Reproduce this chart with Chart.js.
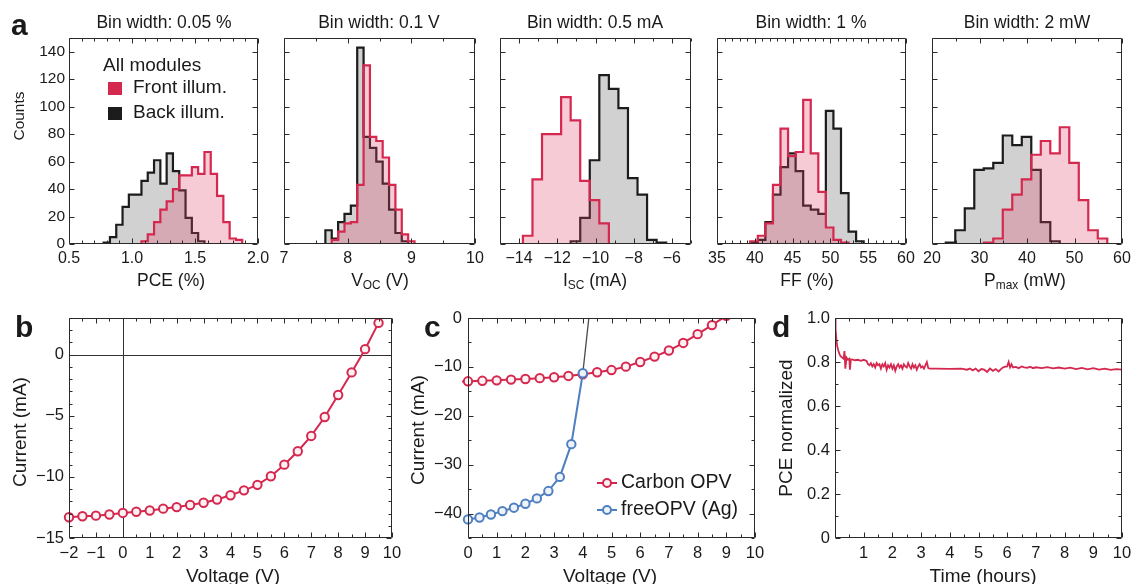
<!DOCTYPE html>
<html>
<head>
<meta charset="utf-8">
<script src="https://cdn.jsdelivr.net/npm/chart.js@4.4.1/dist/chart.umd.min.js"></script>
<style>
  html, body { margin: 0; padding: 0; background: #fff; width: 1131px; height: 584px; overflow: hidden; }
  #fig { position: relative; width: 1131px; height: 584px; overflow: hidden;
         font-family: "Liberation Sans", Arial, Helvetica, sans-serif; color: #1a1a1a; }
  canvas { position: absolute; left: 0; top: 0; }
  .t { position: absolute; white-space: nowrap; line-height: 1; transform: translate(-50%, -50%); }
  .r { transform: translate(-50%, -50%) rotate(-90deg); }
  .ttl { font-size: 17.5px; }
  .ax { font-size: 17.5px; }
  .cnt { font-size: 15.5px; }
  .ax2 { font-size: 19px; }
  .lt { position: absolute; font-weight: bold; font-size: 30px; line-height: 1; }
  sub { font-size: 68%; vertical-align: -0.22em; line-height: 0; }
</style>
</head>
<body>
<div id="fig">
  <canvas id="cPce" width="1200" height="620"></canvas>
  <canvas id="cVoc" width="1200" height="620"></canvas>
  <canvas id="cIsc" width="1200" height="620"></canvas>
  <canvas id="cFf" width="1200" height="620"></canvas>
  <canvas id="cPmax" width="1200" height="620"></canvas>
  <canvas id="cIvB" width="1200" height="620"></canvas>
  <canvas id="cIvC" width="1200" height="620"></canvas>
  <canvas id="cStab" width="1200" height="620"></canvas>

  <div class="lt" style="left:11px;top:10px">a</div>
  <div class="lt" style="left:15px;top:312px">b</div>
  <div class="lt" style="left:424px;top:312px">c</div>
  <div class="lt" style="left:772px;top:312px">d</div>

  <div class="t ttl" style="left:164px;top:23px">Bin width: 0.05 %</div>
  <div class="t ttl" style="left:379px;top:23px">Bin width: 0.1 V</div>
  <div class="t ttl" style="left:595px;top:23px">Bin width: 0.5 mA</div>
  <div class="t ttl" style="left:811px;top:23px">Bin width: 1 %</div>
  <div class="t ttl" style="left:1027px;top:23px">Bin width: 2 mW</div>

  <div class="t ax" style="left:171px;top:281px">PCE (%)</div>
  <div class="t ax" style="left:380px;top:281px">V<sub>OC</sub> (V)</div>
  <div class="t ax" style="left:595px;top:281px">I<sub>SC</sub> (mA)</div>
  <div class="t ax" style="left:807px;top:281px">FF (%)</div>
  <div class="t ax" style="left:1025px;top:281px">P<sub>max</sub> (mW)</div>
  <div class="t cnt r" style="left:19px;top:116px">Counts</div>

  <div class="t ax2" style="left:233px;top:575px">Voltage (V)</div>
  <div class="t ax2" style="left:610px;top:575px">Voltage (V)</div>
  <div class="t ax2" style="left:983px;top:575px">Time (hours)</div>
  <div class="t ax2 r" style="left:19px;top:432px">Current (mA)</div>
  <div class="t ax2 r" style="left:417px;top:430px">Current (mA)</div>
  <div class="t ax2 r" style="left:785px;top:428px">PCE normalized</div>
</div>

<script>
// ---------- histogram data: first bin edge, bin width, counts per bin ----------
const pceBinWidth = 0.05;
const pceFrontStart = 1.075;
const pceFrontCounts = [2, 7, 16, 25, 31, 40, 50, 50, 56, 51, 67, 51, 35, 16, 4, 3];
const pceBackStart = 0.775;
const pceBackCounts = [1, 5, 14, 27, 36, 36, 46, 52, 61, 44, 66, 53, 39, 19, 8, 2];

const vocBinWidth = 0.1;
const vocFrontStart = 7.75;
const vocFrontCounts = [3, 9, 15, 16, 43, 130, 78, 75, 63, 43, 25, 7, 2];
const vocBackStart = 7.65;
const vocBackCounts = [10, 4, 16, 22, 28, 143, 78, 70, 60, 44, 25, 8, 2];

const iscBinWidth = 0.5;
const iscFrontStart = -13.8;
const iscFrontCounts = [6, 47, 80, 80, 107, 90, 46, 32, 15];
const iscBackStart = -11.3;
const iscBackCounts = [2, 19, 61, 123, 113, 99, 48, 36, 3, 1];

const ffBinWidth = 1;
const ffFrontStart = 39.4;
const ffFrontCounts = [2, 6, 15, 43, 84, 64, 67, 105, 66, 38, 12, 3, 1];
const ffBackStart = 39.4;
const ffBackCounts = [1, 3, 16, 36, 56, 66, 53, 28, 25, 22, 97, 84, 37, 9, 2];

const pmaxBinWidth = 2;
const pmaxFrontStart = 30.9;
const pmaxFrontCounts = [1, 4, 25, 36, 47, 65, 75, 66, 85, 59, 32, 10, 4];
const pmaxBackStart = 22.9;
const pmaxBackCounts = [1, 10, 26, 54, 55, 59, 79, 72, 78, 54, 16, 2];

// ---------- I-V curves ----------
const carbonVoltage = [-2, -1.5, -1, -0.5, 0, 0.5, 1, 1.5, 2, 2.5, 3, 3.5, 4, 4.5, 5, 5.5, 6, 6.5, 7, 7.5, 8, 8.5, 9, 9.5];
const carbonCurrent = [-13.3, -13.22, -13.17, -13.08, -12.95, -12.85, -12.75, -12.6, -12.47, -12.3, -12.12, -11.85,
                       -11.5, -11.1, -10.65, -9.95, -9.0, -7.9, -6.65, -5.1, -3.3, -1.45, 0.45, 2.6];
const silverVoltage = [0, 0.4, 0.8, 1.2, 1.6, 2.0, 2.4, 2.8, 3.2, 3.6, 4.0, 4.4];
const silverCurrent = [-41.2, -40.8, -40.2, -39.5, -38.8, -38.0, -36.9, -35.4, -32.5, -25.8, -11.3, 10.2];

// ---------- stability run ----------
const stabTime = [0, 0.02, 0.05, 0.08, 0.12, 0.16, 0.2, 0.25, 0.3, 0.33, 0.36, 0.4, 0.45, 0.5, 0.52, 0.55, 0.6, 0.7, 0.8, 0.9,
  1.0, 1.1, 1.15, 1.2, 1.25, 1.3, 1.35, 1.4, 1.45, 1.5, 1.55, 1.6, 1.65, 1.7, 1.75, 1.8, 1.85, 1.9, 1.95, 2.0,
  2.05, 2.1, 2.15, 2.2, 2.25, 2.3, 2.35, 2.4, 2.45, 2.5, 2.55, 2.6, 2.65, 2.7, 2.75, 2.8, 2.85, 2.9, 2.95, 3.0,
  3.05, 3.1, 3.15, 3.2, 3.25, 3.3, 3.5, 4.0, 4.4, 4.6, 4.7, 4.8, 4.9, 5.0, 5.1, 5.2, 5.3, 5.4, 5.5, 5.6, 5.7, 5.8,
  5.85, 5.9, 6.0, 6.05, 6.1, 6.15, 6.2, 6.3, 6.4, 6.5, 6.6, 6.7, 6.8, 6.9, 7.0, 7.2, 7.4, 7.6, 7.8, 8.0, 8.2, 8.4,
  8.6, 8.8, 9.0, 9.2, 9.4, 9.6, 9.8, 10.0];
const stabPce = [1.0, 0.95, 0.90, 0.87, 0.85, 0.835, 0.825, 0.82, 0.815, 0.85, 0.77, 0.82, 0.81, 0.815, 0.765, 0.81, 0.812, 0.808, 0.81, 0.805,
  0.81, 0.805, 0.79, 0.785, 0.795, 0.78, 0.79, 0.775, 0.795, 0.785, 0.79, 0.77, 0.79, 0.78, 0.795, 0.765, 0.785, 0.775, 0.79, 0.77,
  0.785, 0.76, 0.78, 0.79, 0.775, 0.785, 0.77, 0.79, 0.78, 0.775, 0.795, 0.78, 0.77, 0.79, 0.775, 0.785, 0.765, 0.78, 0.79, 0.775,
  0.78, 0.77, 0.785, 0.80, 0.772, 0.77, 0.77, 0.769, 0.77, 0.765, 0.77, 0.762, 0.77, 0.758, 0.768, 0.765, 0.755, 0.77, 0.76, 0.768, 0.757, 0.77,
  0.775, 0.778, 0.78, 0.80, 0.776, 0.79, 0.775, 0.778, 0.772, 0.78, 0.776, 0.774, 0.779, 0.772, 0.776, 0.772, 0.777, 0.771, 0.775, 0.77, 0.774, 0.768,
  0.773, 0.767, 0.772, 0.765, 0.77, 0.764, 0.768, 0.765];

// ---------- tick values ----------
const countTicks = [0, 20, 40, 60, 80, 100, 120, 140];
const pceTicks = [0.5, 1.0, 1.5, 2.0];
const vocTicks = [7, 8, 9, 10];
const iscTicks = [-14, -12, -10, -8, -6];
const ffTicks = [35, 40, 45, 50, 55, 60];
const pmaxTicks = [20, 30, 40, 50, 60];
const voltTicksB = [-2, -1, 0, 1, 2, 3, 4, 5, 6, 7, 8, 9, 10];
const currentTicksB = [-15, -10, -5, 0];
const voltTicksC = [0, 1, 2, 3, 4, 5, 6, 7, 8, 9, 10];
const currentTicksC = [-40, -30, -20, -10, 0];
const timeTicks = [1, 2, 3, 4, 5, 6, 7, 8, 9, 10];
const pceNormTicks = [0, 0.2, 0.4, 0.6, 0.8, 1.0];

// ---------- styling ----------
const FONT = '"Liberation Sans", Arial, Helvetica, sans-serif';
const TEXT = '#1a1a1a';
const RED = '#d5284f';
const RED_FILL = 'rgba(226, 70, 106, 0.28)';
const BLACK = '#1c1c1c';
const GRAY_FILL = 'rgba(70, 70, 70, 0.25)';
const BLUE = '#4f7fbf';
Chart.defaults.font.family = FONT;
Chart.defaults.color = TEXT;

const CW = 1200, CH = 620, AXW = 60, AXH = 40;
const withMinus = v => String(v).replace('-', '\u2212');

function stepList(min, max, step, majors) {
  if (!step) return [];
  const out = [];
  for (let k = Math.ceil(min / step - 1e-9); k * step <= max + 1e-9; k++) {
    const v = k * step;
    if (!majors.some(m => Math.abs(m - v) < step / 10)) out.push(v);
  }
  return out;
}

// Box frame with inward ticks on all four sides, optional zero cross-hair
function framePlugin(f) {
  return {
    id: 'frame',
    beforeDatasetsDraw(chart) {
      if (!f.zero) return;
      const { ctx, chartArea: a, scales: { x, y } } = chart;
      const px = Math.round(x.getPixelForValue(0)) + 0.5;
      const py = Math.round(y.getPixelForValue(0)) + 0.5;
      ctx.save();
      ctx.strokeStyle = '#333'; ctx.lineWidth = 1;
      ctx.beginPath();
      ctx.moveTo(px, a.top); ctx.lineTo(px, a.bottom);
      ctx.moveTo(a.left, py); ctx.lineTo(a.right, py);
      ctx.stroke();
      ctx.restore();
    },
    afterDatasetsDraw(chart) {
      const { ctx, chartArea: a, scales: { x, y } } = chart;
      const L = Math.round(a.left) + 0.5, R = Math.round(a.right) - 0.5;
      const T = Math.round(a.top) + 0.5, B = Math.round(a.bottom) - 0.5;
      ctx.save();
      ctx.strokeStyle = '#2a2a2a'; ctx.lineWidth = 1;
      ctx.beginPath();
      const xt = (vals, len) => vals.forEach(v => {
        const p = Math.round(x.getPixelForValue(v)) + 0.5;
        ctx.moveTo(p, B); ctx.lineTo(p, B - len);
        ctx.moveTo(p, T); ctx.lineTo(p, T + len);
      });
      const yt = (vals, len) => vals.forEach(v => {
        const p = Math.round(y.getPixelForValue(v)) + 0.5;
        ctx.moveTo(L, p); ctx.lineTo(L + len, p);
        ctx.moveTo(R, p); ctx.lineTo(R - len, p);
      });
      xt(f.xMajor, 5);
      xt(stepList(x.min, x.max, f.xMinor, f.xMajor), 3);
      yt(f.yMajor, 5);
      yt(stepList(y.min, y.max, f.yMinor, f.yMajor), 3);
      ctx.rect(L, T, R - L, B - T);
      ctx.stroke();
      ctx.restore();
    }
  };
}

function axis(cfg, isX) {
  return {
    type: 'linear', min: cfg.min, max: cfg.max,
    grid: { display: false, drawTicks: false },
    border: { display: false },
    ticks: {
      display: cfg.show !== false, padding: cfg.pad, font: { size: cfg.size },
      autoSkip: false, maxRotation: 0, color: TEXT,
      callback: cfg.fmt || (v => withMinus(v))
    },
    afterBuildTicks: s => { s.ticks = cfg.ticks.map(v => ({ value: v })); },
    afterFit: s => { if (isX) s.height = AXH; else s.width = AXW; }
  };
}

function panel(id, rect, datasets, xc, yc, extra) {
  const frame = framePlugin({
    xMajor: xc.marks || xc.ticks, xMinor: xc.minor,
    yMajor: yc.marks || yc.ticks, yMinor: yc.minor, zero: rect.zero
  });
  return new Chart(document.getElementById(id), {
    type: 'line',
    data: { datasets },
    options: {
      responsive: false, animation: false, devicePixelRatio: 1,
      events: [],
      layout: { padding: { left: rect.l - AXW, top: rect.t, right: CW - rect.r, bottom: CH - rect.b - AXH } },
      plugins: { legend: { display: false }, tooltip: { enabled: false } },
      scales: { x: axis(xc, true), y: axis(yc, false) }
    },
    plugins: [frame].concat(extra || [])
  });
}

// stepped outline of a histogram, starting and ending on the baseline
function histPoints(start, width, counts) {
  const pts = [{ x: start, y: 0 }];
  counts.forEach((c, i) => pts.push({ x: start + i * width, y: c }));
  pts.push({ x: start + counts.length * width, y: 0 });
  return pts;
}
function histSets(fStart, fCounts, bStart, bCounts, w) {
  const common = { stepped: 'before', fill: 'origin', borderWidth: 2.2, pointRadius: 0, tension: 0 };
  return [
    Object.assign({ label: 'Front illum.', data: histPoints(fStart, w, fCounts), borderColor: RED, backgroundColor: RED_FILL }, common),
    Object.assign({ label: 'Back illum.', data: histPoints(bStart, w, bCounts), borderColor: BLACK, backgroundColor: GRAY_FILL }, common)
  ];
}

const moduleLegend = {
  id: 'moduleLegend',
  afterDraw(chart) {
    const { ctx, chartArea: a } = chart;
    ctx.save();
    ctx.font = '19px ' + FONT;
    ctx.fillStyle = TEXT;
    ctx.textBaseline = 'middle';
    ctx.fillText('All modules', a.left + 34, a.top + 28);
    chart.data.datasets.forEach((ds, i) => {
      const yc = a.top + 50 + i * 25;
      ctx.fillStyle = ds.borderColor;
      ctx.fillRect(a.left + 39, yc - 6, 14, 13);
      ctx.fillStyle = TEXT;
      ctx.fillText(ds.label, a.left + 64, yc);
    });
    ctx.restore();
  }
};

const countsAxis = { min: 0, max: 150, ticks: countTicks, size: 15.5, pad: 4 };
const countsHidden = Object.assign({}, countsAxis, { show: false });
const TOP = { t: 38, b: 244 };

panel('cPce', Object.assign({ l: 69, r: 258 }, TOP),
  histSets(pceFrontStart, pceFrontCounts, pceBackStart, pceBackCounts, pceBinWidth),
  { min: 0.5, max: 2.0, ticks: pceTicks, minor: 0.1, size: 16, pad: 5, fmt: v => v.toFixed(1) },
  countsAxis, [moduleLegend]);

panel('cVoc', Object.assign({ l: 284, r: 475 }, TOP),
  histSets(vocFrontStart, vocFrontCounts, vocBackStart, vocBackCounts, vocBinWidth),
  { min: 7, max: 10, ticks: vocTicks, minor: 0.5, size: 16, pad: 5 }, countsHidden);

panel('cIsc', Object.assign({ l: 500, r: 691 }, TOP),
  histSets(iscFrontStart, iscFrontCounts, iscBackStart, iscBackCounts, iscBinWidth),
  { min: -15, max: -5, ticks: iscTicks, minor: 1, size: 16, pad: 5 }, countsHidden);

panel('cFf', Object.assign({ l: 717, r: 906 }, TOP),
  histSets(ffFrontStart, ffFrontCounts, ffBackStart, ffBackCounts, ffBinWidth),
  { min: 35, max: 60, ticks: ffTicks, minor: 1, size: 16, pad: 5 }, countsHidden);

panel('cPmax', Object.assign({ l: 932, r: 1122 }, TOP),
  histSets(pmaxFrontStart, pmaxFrontCounts, pmaxBackStart, pmaxBackCounts, pmaxBinWidth),
  { min: 20, max: 60, ticks: pmaxTicks, minor: 5, size: 16, pad: 5 }, countsHidden);

// ---------- I-V panels ----------
const edgeClip = { left: 6, right: 6, top: 0, bottom: 6 };
function carbonSet() {
  return {
    label: 'Carbon OPV', order: 1,
    data: carbonVoltage.map((v, i) => ({ x: v, y: carbonCurrent[i] })),
    borderColor: RED, borderWidth: 2, tension: 0,
    pointRadius: 4.2, pointBorderWidth: 2, pointBorderColor: RED, pointBackgroundColor: '#fdf1f3',
    clip: edgeClip
  };
}
const silverSet = {
  label: 'freeOPV (Ag)', order: 0,
  data: silverVoltage.map((v, i) => ({ x: v, y: silverCurrent[i] })),
  borderColor: BLUE, borderWidth: 2, tension: 0,
  pointRadius: 4.2, pointBorderWidth: 2, pointBorderColor: BLUE, pointBackgroundColor: '#eef3fa',
  clip: edgeClip,
  segment: {
    borderColor: c => (c.p0.parsed.x >= 4 ? '#4a4a4a' : undefined),
    borderWidth: c => (c.p0.parsed.x >= 4 ? 1.3 : undefined)
  }
};

const BOT = { t: 318, b: 538 };
panel('cIvB', Object.assign({ l: 69, r: 392, zero: true }, BOT), [carbonSet()],
  { min: -2, max: 10, ticks: voltTicksB, minor: 0.5, size: 16.5, pad: 6 },
  { min: -15, max: 3, ticks: currentTicksB, minor: 1, size: 16.5, pad: 5 });

const ivLegend = {
  id: 'ivLegend',
  afterDraw(chart) {
    const { ctx, chartArea: a } = chart;
    ctx.save();
    ctx.font = '19.5px ' + FONT;
    ctx.textBaseline = 'middle';
    chart.data.datasets.forEach((ds, i) => {
      const yc = a.top + 165 + i * 27;
      const x0 = a.left + 129, x1 = a.left + 149, xm = (x0 + x1) / 2;
      ctx.strokeStyle = ds.borderColor; ctx.lineWidth = 2;
      ctx.beginPath(); ctx.moveTo(x0, yc); ctx.lineTo(x1, yc); ctx.stroke();
      ctx.fillStyle = ds.pointBackgroundColor;
      ctx.beginPath(); ctx.arc(xm, yc, 4, 0, Math.PI * 2); ctx.fill(); ctx.stroke();
      ctx.fillStyle = TEXT;
      ctx.fillText(ds.label, a.left + 153, yc);
    });
    ctx.restore();
  }
};
panel('cIvC', Object.assign({ l: 468, r: 755 }, BOT), [carbonSet(), silverSet],
  { min: 0, max: 10, ticks: voltTicksC, minor: 0.5, size: 16.5, pad: 6 },
  { min: -45, max: 0, ticks: currentTicksC, minor: 5, size: 16.5, pad: 6 }, [ivLegend]);

// ---------- stability panel ----------
panel('cStab', Object.assign({ l: 835, r: 1122 }, BOT), [{
    label: 'PCE normalized',
    data: stabTime.map((t, i) => ({ x: t, y: stabPce[i] })),
    borderColor: RED, borderWidth: 1.8, pointRadius: 0, tension: 0
  }],
  { min: 0, max: 10, ticks: timeTicks, marks: [0, 1, 2, 3, 4, 5, 6, 7, 8, 9, 10], minor: 0.5, size: 16.5, pad: 6 },
  { min: 0, max: 1, ticks: pceNormTicks, minor: 0.1, size: 16.5, pad: 5, fmt: v => (v === 0 ? '0' : v.toFixed(1)) });
</script>
</body>
</html>
